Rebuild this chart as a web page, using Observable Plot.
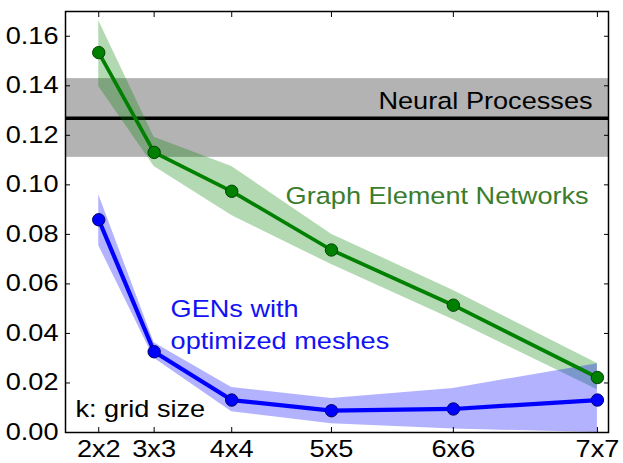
<!DOCTYPE html>
<html>
<head>
<meta charset="utf-8">
<script src="https://cdn.jsdelivr.net/npm/d3@7"></script>
<script src="https://cdn.jsdelivr.net/npm/@observablehq/plot@0.6"></script>
<style>
  html, body { margin: 0; padding: 0; background: #fff; }
  #chart svg { display: block; }
</style>
</head>
<body>
<div id="chart"></div>
<script>
// x positions: number of mesh nodes (k*k), labelled by grid size
const nodes = [4, 9, 16, 25, 36, 49];
const gridLabels = ["2x2", "3x3", "4x4", "5x5", "6x6", "7x7"];
const yTicks = [0, 0.02, 0.04, 0.06, 0.08, 0.10, 0.12, 0.14, 0.16];

// Graph Element Networks
const genMean = [0.1534, 0.1131, 0.0974, 0.0737, 0.0514, 0.0222];
const genLow  = [0.1397, 0.1074, 0.0876, 0.0678, 0.0455, 0.0173];
const genHigh = [0.1663, 0.1192, 0.1074, 0.0801, 0.0573, 0.0279];

// GENs with optimized meshes
const optMean = [0.0859, 0.0326, 0.0131, 0.0088, 0.0095, 0.0131];
const optLow  = [0.0754, 0.0300, 0.0084, 0.0035, 0.0014, 0.0000];
const optHigh = [0.0960, 0.0362, 0.0182, 0.0137, 0.0178, 0.0278];

// Neural Processes (constant reference)
const npMean = 0.1269;
const npLow = 0.1111;
const npHigh = 0.1429;

const gen = nodes.map((n, i) => ({n, mean: genMean[i], lo: genLow[i], hi: genHigh[i]}));
const opt = nodes.map((n, i) => ({n, mean: optMean[i], lo: optLow[i], hi: optHigh[i]}));
const labelOf = new Map(nodes.map((n, i) => [n, gridLabels[i]]));

const FS = 23.5;
const green = "#008000";
const blue = "#0000ff";

const svg = Plot.plot({
  width: 623,
  height: 463,
  marginLeft: 65,
  marginRight: 15,
  marginTop: 11,
  marginBottom: 31,
  style: {fontFamily: "'Liberation Sans', Arial, sans-serif", background: "#fff", color: "#000"},
  x: {type: "linear", domain: [1, 50]},
  y: {domain: [0, 0.17]},
  marks: [
    Plot.rect([0], {y1: npLow, y2: npHigh, fill: "gray", fillOpacity: 0.6}),
    Plot.ruleY([npMean], {stroke: "black", strokeWidth: 3.5}),
    Plot.areaY(gen, {x: "n", y1: "lo", y2: "hi", fill: green, fillOpacity: 0.3}),
    Plot.areaY(opt, {x: "n", y1: "lo", y2: "hi", fill: blue, fillOpacity: 0.3}),
    Plot.line(gen, {x: "n", y: "mean", stroke: green, strokeWidth: 3.7}),
    Plot.dot(gen, {x: "n", y: "mean", r: 6.2, fill: green, stroke: "#004400", strokeWidth: 1}),
    Plot.line(opt, {x: "n", y: "mean", stroke: blue, strokeWidth: 4.2}),
    Plot.dot(opt, {x: "n", y: "mean", r: 6.2, fill: blue, stroke: "#000066", strokeWidth: 1}),
    Plot.text(["Neural Processes"], {x: 48.56, y: 0.1307, text: d => d, textAnchor: "end", lineAnchor: "bottom", fontSize: FS, fill: "#000"}),
    Plot.text(["Graph Element Networks"], {x: 20.86, y: 0.0924, text: d => d, textAnchor: "start", lineAnchor: "bottom", fontSize: FS, fill: "#3a7d2c"}),
    Plot.text(["GENs with\noptimized meshes"], {x: 10.48, y: 0.0337, text: d => d, textAnchor: "start", lineAnchor: "bottom", lineHeight: 1.36, fontSize: FS, fill: "#1212f5"}),
    Plot.text(["k: grid size"], {x: 1.9, y: 0.0061, text: d => d, textAnchor: "start", lineAnchor: "bottom", fontSize: FS, fill: "#000"}),
    Plot.axisY({anchor: "left", ticks: yTicks, tickSize: -5, tickPadding: 12, tickFormat: d3.format(".2f"), fontSize: FS, label: null}),
    Plot.axisY({anchor: "right", ticks: yTicks, tickSize: -5, tickFormat: () => "", label: null}),
    Plot.axisX({anchor: "bottom", ticks: nodes, tickSize: -5, tickPadding: 12.6, tickFormat: d => labelOf.get(d), fontSize: FS, label: null}),
    Plot.axisX({anchor: "top", ticks: nodes, tickSize: -5, tickFormat: () => "", label: null}),
    Plot.frame({stroke: "#000", strokeWidth: 1.5})
  ]
});

// widen glyphs horizontally about their anchor to match the reference lettering
svg.querySelectorAll("text").forEach(t => {
  const tr = t.getAttribute("transform");
  if (tr) t.setAttribute("transform", tr + " scale(1.155,1)");
});

document.getElementById("chart").appendChild(svg);
</script>
</body>
</html>
